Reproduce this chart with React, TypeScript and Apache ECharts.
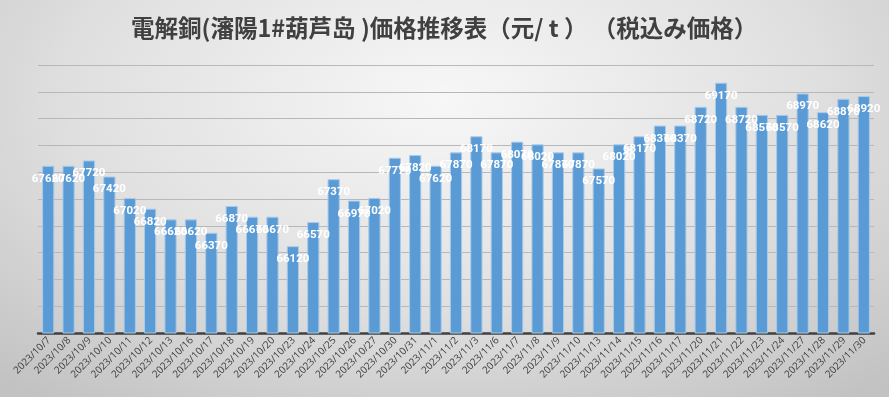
import React, { useEffect, useRef } from "react";
import * as echarts from "echarts";

const TITLE = "電解銅(瀋陽1#葫芦岛 )価格推移表（元/ t ） （税込み価格）";

const categories = [
  "2023/10/7", "2023/10/8", "2023/10/9", "2023/10/10", "2023/10/11", "2023/10/12",
  "2023/10/13", "2023/10/16", "2023/10/17", "2023/10/18", "2023/10/19", "2023/10/20",
  "2023/10/23", "2023/10/24", "2023/10/25", "2023/10/26", "2023/10/27", "2023/10/30",
  "2023/10/31", "2023/11/1", "2023/11/2", "2023/11/3", "2023/11/6", "2023/11/7",
  "2023/11/8", "2023/11/9", "2023/11/10", "2023/11/13", "2023/11/14", "2023/11/15",
  "2023/11/16", "2023/11/17", "2023/11/20", "2023/11/21", "2023/11/22", "2023/11/23",
  "2023/11/24", "2023/11/27", "2023/11/28", "2023/11/29", "2023/11/30",
];

const prices = [
  67620, 67620, 67720, 67420, 67020, 66820,
  66620, 66620, 66370, 66870, 66670, 66670,
  66120, 66570, 67370, 66970, 67020, 67770,
  67820, 67620, 67870, 68170, 67870, 68070,
  68020, 67870, 67870, 67570, 68020, 68170,
  68370, 68370, 68720, 69170, 68720, 68570,
  68570, 68970, 68620, 68870, 68920,
];

const Y_MIN = 64500;
const Y_MAX = 69500;
const Y_STEP = 500;

export default function App() {
  const ref = useRef<HTMLDivElement>(null);
  useEffect(() => {
    if (!ref.current) return;
    const chart = echarts.init(ref.current, undefined, { renderer: "svg" });
    chart.setOption({
      animation: false,
      backgroundColor: "transparent",
      title: {
        text: TITLE,
        left: 126,
        top: 10,
        textStyle: {
          fontFamily: "Noto Sans CJK JP",
          fontWeight: "bold",
          fontSize: 23.5,
          color: "#404040",
        },
      },
      grid: { left: 38, right: 15, top: 65, bottom: 64, containLabel: false },
      xAxis: {
        type: "category",
        data: categories,
        axisLine: { lineStyle: { color: "#404040", width: 2.5 } },
        axisTick: { show: false },
        axisLabel: {
          interval: 0,
          rotate: 45,
          fontSize: 10,
          color: "#404040",
          fontFamily: "Open Sans",
          margin: 5,
        },
      },
      yAxis: {
        type: "value",
        min: Y_MIN,
        max: Y_MAX,
        interval: Y_STEP,
        axisLabel: { show: false },
        axisLine: { show: false },
        axisTick: { show: false },
        splitLine: { lineStyle: { color: "#b8b8b8", width: 1 } },
      },
      series: [
        {
          type: "bar",
          data: prices,
          barWidth: "60%",
          itemStyle: { color: "#5b9bd5", borderColor: "#a9cbe9", borderWidth: 1 },
          label: {
            show: true,
            position: "insideTop",
            distance: 6,
            color: "#ffffff",
            fontSize: 11.5,
            fontWeight: "bold",
            fontFamily: "Roboto",
          },
        },
      ],
    });
    return () => chart.dispose();
  }, []);
  return (
    <div
      style={{
        position: "fixed",
        left: 0,
        top: 0,
        width: 889,
        height: 397,
        background:
          "radial-gradient(ellipse 75% 95% at 50% 25%, #f7f7f7 0%, #e0e0e0 55%, #c2c2c2 100%)",
      }}
    >
      <div ref={ref} style={{ width: 889, height: 397 }} />
    </div>
  );
}
